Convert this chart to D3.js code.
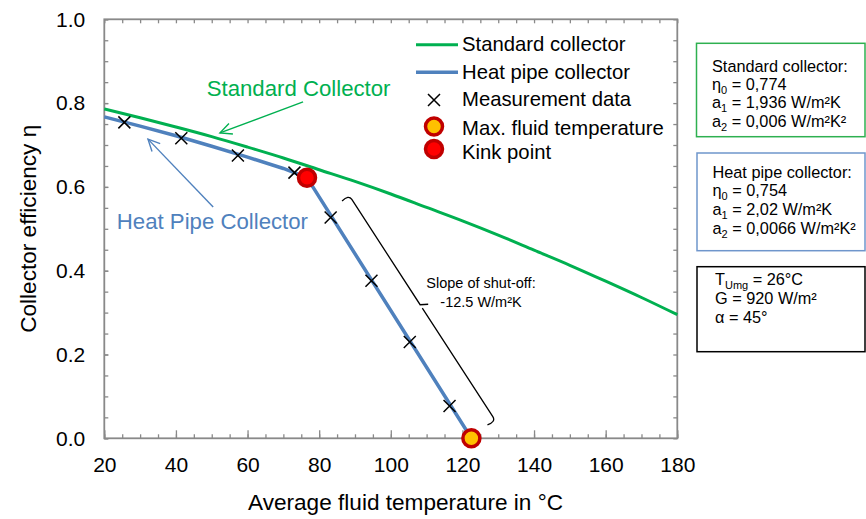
<!DOCTYPE html>
<html>
<head>
<meta charset="utf-8">
<script src="https://cdn.jsdelivr.net/npm/d3@7/dist/d3.min.js"></script>
<style>
body { margin: 0; background: #fff; }
svg { display: block; font-family: "Liberation Sans", Arial, sans-serif; }
</style>
</head>
<body>
<svg id="chart"></svg>
<script>
var width = 866
var height = 519

// efficiency curves (temperature in °C, efficiency)
var stdTemps = [20, 30, 40, 50, 60, 70, 80, 90, 100, 110, 120, 130, 140, 150, 160, 170, 180]
var stdEta = [0.786, 0.765, 0.743, 0.720, 0.695, 0.669, 0.641, 0.613, 0.583, 0.551, 0.519, 0.485, 0.449, 0.413, 0.375, 0.336, 0.295]
var hpTemps = [20, 30, 40, 50, 60, 70, 76.6, 122.5]
var hpEta = [0.767, 0.745, 0.722, 0.697, 0.671, 0.644, 0.622, 0]
var measTemps = [25.6, 41.5, 57.3, 73.1, 83.2, 94.6, 105.3, 116.4]
var measEta = [0.754, 0.716, 0.675, 0.634, 0.527, 0.376, 0.230, 0.077]
var kinkPoint = [76.6, 0.622]
var maxTempPoint = [122.5, 0]

var xTicks = [20, 40, 60, 80, 100, 120, 140, 160, 180]
var yTicks = [0, 0.2, 0.4, 0.6, 0.8, 1.0]
var legendLabels = ["Standard collector", "Heat pipe collector", "Measurement data", "Max. fluid temperature", "Kink point"]

// parameter boxes: each line is a list of [text, "sub" or ""]
var stdBox = [
  [["Standard collector:", ""]],
  [["η", ""], ["0", "sub"], [" = 0,774", ""]],
  [["a", ""], ["1", "sub"], [" = 1,936 W/m²K", ""]],
  [["a", ""], ["2", "sub"], [" = 0,006 W/m²K²", ""]]
]
var hpBox = [
  [["Heat pipe collector:", ""]],
  [["η", ""], ["0", "sub"], [" = 0,754", ""]],
  [["a", ""], ["1", "sub"], [" = 2,02 W/m²K", ""]],
  [["a", ""], ["2", "sub"], [" = 0,0066 W/m²K²", ""]]
]
var condBox = [
  [["T", ""], ["Umg", "sub"], [" = 26°C", ""]],
  [["G = 920 W/m²", ""]],
  [["α = 45°", ""]]
]

var green = "#00b050", blue = "#4f81bd", gray = "#898989"

var svg = d3.select("#chart").attr("width", width).attr("height", height)

var x = d3.scaleLinear().domain([20, 180]).range([104.3, 677.3])
var y = d3.scaleLinear().domain([0, 1]).range([438.3, 19.3])

// ---- axes: inward ticks on all four sides
function styleAxis(g) {
  g.select(".domain").remove()
  g.selectAll(".tick line").attr("stroke", gray).attr("stroke-width", 1.3)
  g.selectAll("text").attr("font-size", "21px").attr("fill", "#000")
  g.attr("font-family", null)
}
var xMinor = d3.range(20, 181, 5), yMinor = d3.range(0, 1.001, 0.05)

svg.append("g").attr("transform", "translate(0," + y(0) + ")")
  .call(d3.axisBottom(x).tickValues(xMinor).tickSizeInner(-4).tickSizeOuter(0).tickFormat(""))
  .call(styleAxis)
svg.append("g").attr("transform", "translate(0," + y(0) + ")")
  .call(d3.axisBottom(x).tickValues(xTicks).tickSizeInner(-8).tickSizeOuter(0).tickPadding(19).tickFormat(d3.format("d")))
  .call(styleAxis)
svg.append("g").attr("transform", "translate(0," + y(1) + ")")
  .call(d3.axisTop(x).tickValues(xMinor).tickSizeInner(-4).tickSizeOuter(0).tickFormat(""))
  .call(styleAxis)
svg.append("g").attr("transform", "translate(" + x(20) + ",0)")
  .call(d3.axisLeft(y).tickValues(yMinor).tickSizeInner(-4).tickSizeOuter(0).tickFormat(""))
  .call(styleAxis)
svg.append("g").attr("transform", "translate(" + x(20) + ",0)")
  .call(d3.axisLeft(y).tickValues(yTicks).tickSizeInner(-4).tickSizeOuter(0).tickPadding(19).tickFormat(d3.format(".1f")))
  .call(styleAxis)
svg.append("g").attr("transform", "translate(" + x(180) + ",0)")
  .call(d3.axisRight(y).tickValues(yMinor).tickSizeInner(-4).tickSizeOuter(0).tickFormat(""))
  .call(styleAxis)

svg.append("rect")
  .attr("x", x(20)).attr("y", y(1))
  .attr("width", x(180) - x(20)).attr("height", y(0) - y(1))
  .attr("fill", "none").attr("stroke", gray).attr("stroke-width", 1.8)

svg.append("text")
  .attr("x", 248).attr("y", 510).attr("font-size", "22.6px")
  .text("Average fluid temperature in °C")
svg.append("text")
  .attr("transform", "translate(28," + (y(0) + y(1)) / 2 + ") rotate(-90)")
  .attr("text-anchor", "middle").attr("dy", "0.35em").attr("font-size", "22.6px")
  .text("Collector efficiency η")

// ---- curves
var line = d3.line().x(function (d) { return x(d[0]) }).y(function (d) { return y(d[1]) })

svg.append("path")
  .datum(d3.zip(stdTemps, stdEta))
  .attr("d", line.curve(d3.curveMonotoneX))
  .attr("fill", "none").attr("stroke", green).attr("stroke-width", 3)

svg.append("path")
  .datum(d3.zip(hpTemps, hpEta))
  .attr("d", line.curve(d3.curveLinear))
  .attr("fill", "none").attr("stroke", blue).attr("stroke-width", 3.5)

function cross(g, cx, cy, s) {
  g.append("path")
    .attr("d", "M" + (cx - s) + "," + (cy - s) + "L" + (cx + s) + "," + (cy + s) +
               "M" + (cx - s) + "," + (cy + s) + "L" + (cx + s) + "," + (cy - s))
    .attr("stroke", "#000").attr("stroke-width", 1.5).attr("fill", "none")
}
var meas = svg.append("g")
d3.zip(measTemps, measEta).forEach(function (d) { cross(meas, x(d[0]), y(d[1]), 6) })

svg.append("circle").attr("cx", x(kinkPoint[0])).attr("cy", y(kinkPoint[1])).attr("r", 8.5)
  .attr("fill", "#ff0000").attr("stroke", "#c00000").attr("stroke-width", 3.5)
svg.append("circle").attr("cx", x(maxTempPoint[0])).attr("cy", y(maxTempPoint[1])).attr("r", 8.5)
  .attr("fill", "#ffc000").attr("stroke", "#c00000").attr("stroke-width", 3.5)

// ---- annotations with open arrowheads
function arrow(color, from, to, label, lx, ly) {
  var x1 = x(from[0]), y1 = y(from[1]), x2 = x(to[0]), y2 = y(to[1])
  var a = Math.atan2(y1 - y2, x1 - x2), L = 13, sp = 0.45
  var g = svg.append("g").attr("stroke", color).attr("stroke-width", 1.4).attr("fill", "none")
  g.append("path").attr("d", "M" + x1 + "," + y1 + "L" + x2 + "," + y2)
  g.append("path").attr("d",
    "M" + (x2 + L * Math.cos(a + sp)) + "," + (y2 + L * Math.sin(a + sp)) +
    "L" + x2 + "," + y2 +
    "L" + (x2 + L * Math.cos(a - sp)) + "," + (y2 + L * Math.sin(a - sp)))
  svg.append("text").attr("x", x(lx)).attr("y", y(ly))
    .attr("fill", color).attr("font-size", "22.2px").text(label)
}
arrow(green, [75.5, 0.803], [52.3, 0.729], "Standard Collector", 48.6, 0.817)
arrow(blue, [50.4, 0.552], [32.2, 0.714], "Heat Pipe Collector", 23.5, 0.4995)

// slope bracket
;(function () {
  var ax = x(88.2), ay = y(0.582), bx = x(129.4), by = y(0.0396)
  var len = Math.hypot(bx - ax, by - ay)
  var ux = (bx - ax) / len, uy = (by - ay) / len
  var nx = -uy, ny = ux          // points toward the blue line
  var mx = (ax + bx) / 2, my = (ay + by) / 2
  var h = 9, t = 7
  var d = "M" + (ax + nx * h + ux * 2) + "," + (ay + ny * h + uy * 2) +
    "Q" + ax + "," + ay + " " + (ax + ux * 6) + "," + (ay + uy * 6) +
    "L" + (mx - ux * 4) + "," + (my - uy * 4) +
    "L" + (mx - nx * t) + "," + (my - ny * t) +
    "M" + mx + "," + my +
    "L" + (bx - ux * 6) + "," + (by - uy * 6) +
    "Q" + bx + "," + by + " " + (bx + nx * h - ux * 2) + "," + (by + ny * h - uy * 2)
  svg.append("path").attr("d", d).attr("stroke", "#000").attr("stroke-width", 1.3).attr("fill", "none")
})()
svg.append("text").attr("x", 481).attr("y", 288).attr("text-anchor", "middle")
  .attr("font-size", "14.5px").text("Slope of shut-off:")
svg.append("text").attr("x", 481).attr("y", 307).attr("text-anchor", "middle")
  .attr("font-size", "14.5px").text("-12.5 W/m²K")

// ---- legend
var legRows = [44.7, 72.3, 100, 126.5, 149]
var legTextY = [44, 71.7, 99.3, 128.3, 151.7]
var leg = svg.append("g")
legendLabels.forEach(function (lab, i) {
  var ry = legRows[i]
  if (i === 0 || i === 1) {
    leg.append("line").attr("x1", 416).attr("x2", 458).attr("y1", ry).attr("y2", ry)
      .attr("stroke", i === 0 ? green : blue).attr("stroke-width", i === 0 ? 3 : 3.5)
  } else if (i === 2) {
    cross(leg, 434, ry, 6)
  } else {
    leg.append("circle").attr("cx", 434).attr("cy", ry).attr("r", 8.5)
      .attr("fill", i === 3 ? "#ffc000" : "#ff0000").attr("stroke", "#c00000").attr("stroke-width", 3.5)
  }
  leg.append("text").attr("x", 462).attr("y", legTextY[i]).attr("dy", "0.35em")
    .attr("font-size", "20.3px").text(lab)
})

// ---- parameter boxes
function paramBox(bx, by, bw, bh, color, lines, tx, baselines) {
  svg.append("rect").attr("x", bx).attr("y", by).attr("width", bw).attr("height", bh)
    .attr("fill", "#fff").attr("stroke", color).attr("stroke-width", 1.5)
  lines.forEach(function (parts, i) {
    var t = svg.append("text").attr("x", tx).attr("y", baselines[i]).attr("font-size", "16.3px")
    var shifted = false
    parts.forEach(function (p) {
      var s = t.append("tspan").text(p[0])
      if (p[1] === "sub") {
        s.attr("font-size", "11px").attr("dy", 4); shifted = true
      } else if (shifted) {
        s.attr("dy", -4); shifted = false
      }
    })
  })
}
paramBox(696.5, 43.3, 168.5, 93.4, "#2eb050", stdBox, 712, [71.7, 89.5, 108.3, 126.7])
paramBox(697, 153, 168, 97.7, "#6f96cc", hpBox, 712.5, [177.5, 196, 215, 234])
paramBox(697, 266.7, 168, 85, "#000", condBox, 715, [284.5, 304, 323])
</script>
</body>
</html>
